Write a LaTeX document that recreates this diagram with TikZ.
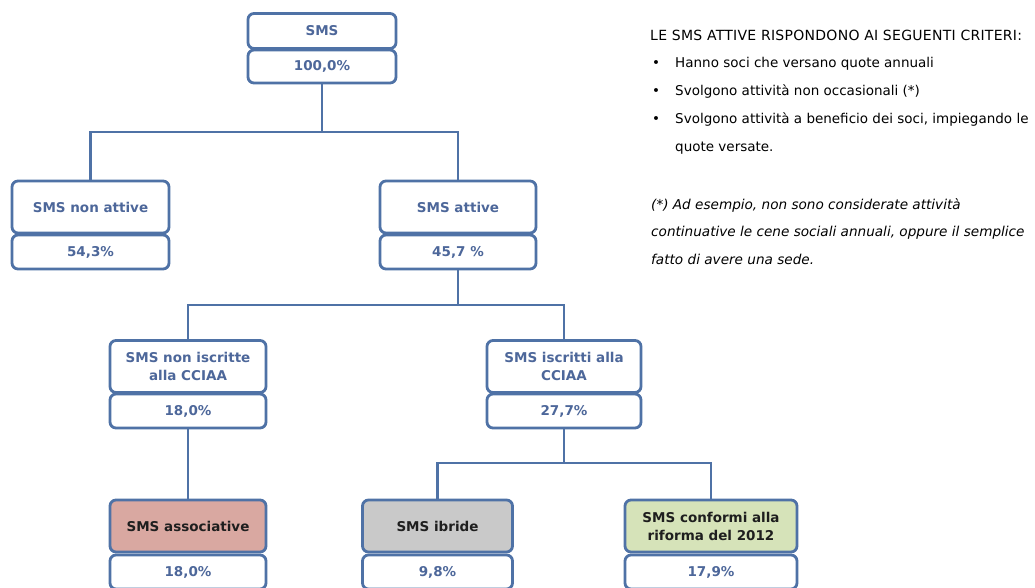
\documentclass[tikz,border=0pt]{standalone}
\usepackage{fontspec}
\setmainfont{DejaVu Sans}
\definecolor{bcol}{HTML}{4F72A6}
\definecolor{tcol}{HTML}{4D679A}
\definecolor{pinkf}{HTML}{D9A8A1}
\definecolor{grayf}{HTML}{C9C9C9}
\definecolor{greenf}{HTML}{D6E3B9}
\definecolor{dtext}{HTML}{1E1E1E}
\begin{document}
\begin{tikzpicture}[x=1pt,y=-1pt,
  bx/.style={draw=bcol, line width=2.8pt, rounded corners=6pt, fill=white, inner sep=0pt,
    align=center, text=tcol, font=\fontsize{13.5}{18}\selectfont\bfseries},
  hi/.style={minimum height=52pt},
  lo/.style={minimum height=34pt},
  ln/.style={draw=bcol, line width=2.8pt},
  note/.style={anchor=base west, inner sep=0pt, font=\fontsize{13.5}{28}\selectfont, text=black},
  inote/.style={note, font=\fontsize{13.6}{28}\selectfont\itshape}]
\useasboundingbox (0,0) rectangle (1035,587);
\clip (0,0) rectangle (1035,587);
\fill[white] (0,0) rectangle (1035,587);

% boxes
\node[bx, minimum width=148pt, minimum height=35pt] (smsT) at (322,31) {SMS};
\node[bx, minimum width=148pt, minimum height=33pt] (smsB) at (322,66.5) {100,0\%};

\node[bx, hi, minimum width=157pt] (nonattT) at (90.5,207) {SMS non attive};
\node[bx, lo, minimum width=157pt] (nonattB) at (90.5,252) {54,3\%};
\node[bx, hi, minimum width=156pt] (attT) at (458,207) {SMS attive};
\node[bx, lo, minimum width=156pt] (attB) at (458,252) {45,7 \%};

\node[bx, hi, minimum width=156pt] (noniscrT) at (188,366.5) {SMS non iscritte\\alla CCIAA};
\node[bx, lo, minimum width=156pt] (noniscrB) at (188,411) {18,0\%};
\node[bx, hi, minimum width=154pt] (iscrT) at (564,366.5) {SMS iscritti alla\\CCIAA};
\node[bx, lo, minimum width=154pt] (iscrB) at (564,411) {27,7\%};

\node[bx, hi, minimum width=156pt, fill=pinkf, text=dtext] (assocT) at (188,526) {SMS associative};
\node[bx, lo, minimum width=156pt] (assocB) at (188,572) {18,0\%};
\node[bx, hi, minimum width=150pt, fill=grayf, text=dtext] (ibrideT) at (437.5,526) {SMS ibride};
\node[bx, lo, minimum width=150pt] (ibrideB) at (437.5,572) {9,8\%};
\node[bx, hi, minimum width=172pt, fill=greenf, text=dtext] (confT) at (711,526) {SMS conformi alla\\riforma del 2012};
\node[bx, lo, minimum width=172pt] (confB) at (711,572) {17,9\%};

% connectors
\coordinate (j1) at (322,132);
\coordinate (j2) at (458,305);
\coordinate (j3) at (564,463);
\draw[ln] (smsB.south) -- (j1);
\draw[ln] (nonattT.north) |- (j1) -| (attT.north);
\draw[ln] (attB.south) -- (j2);
\draw[ln] (noniscrT.north) |- (j2) -| (iscrT.north);
\draw[ln] (noniscrB.south) -- (assocT.north);
\draw[ln] (iscrB.south) -- (j3);
\draw[ln] (ibrideT.north) |- (j3) -| (confT.north);

% notes
\node[note, font=\fontsize{14}{28}\selectfont\addfontfeature{LetterSpace=2}] (h) at (650,40) {LE SMS ATTIVE RISPONDONO AI SEGUENTI CRITERI:};
\node[note] (b1) at (652,67) {\textbullet};
\node[note] (t1) at (675,67) {Hanno soci che versano quote annuali};
\node[note] (b2) at (652,95) {\textbullet};
\node[note] (t2) at (675,95) {Svolgono attività non occasionali (*)};
\node[note] (b3) at (652,123) {\textbullet};
\node[note] (t3) at (675,123) {Svolgono attività a beneficio dei soci, impiegando le};
\node[note] (t3b) at (675,151) {quote versate.};
\node[inote] (i1) at (651,209) {(*) Ad esempio, non sono considerate attività};
\node[inote] (i2) at (651,236) {continuative le cene sociali annuali, oppure il semplice};
\node[inote] (i3) at (651,264) {fatto di avere una sede.};
\end{tikzpicture}
\end{document}
